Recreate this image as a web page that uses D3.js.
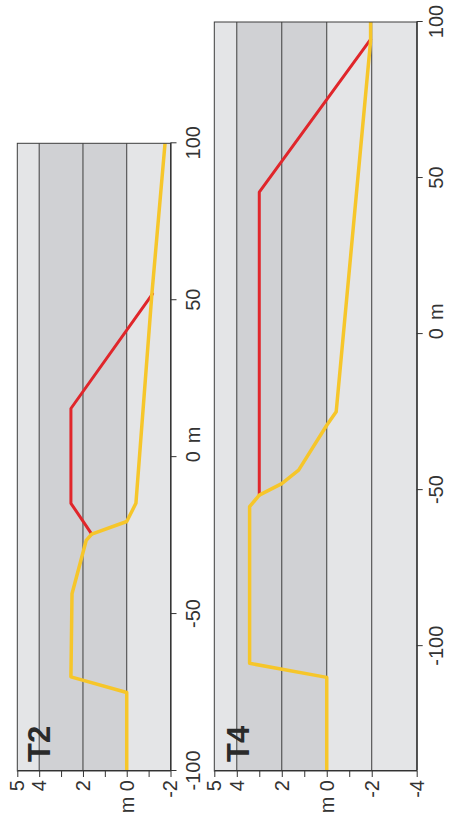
<!DOCTYPE html>
<html><head><meta charset="utf-8">
<script src="https://cdn.jsdelivr.net/npm/d3@7"></script>
<style>
body{margin:0;background:#fff}
svg{display:block}
text{font-family:"Liberation Sans",Arial,Helvetica,sans-serif}
</style>
</head><body>
<svg id="chart" width="449" height="820"></svg>
<script>
// ---- data ----
const panelNames = ["T2", "T4"];
const distTicks = [-100, -50, 0, 50, 100];
const t2DistDomain = [-100, 100];
const t2ElevDomain = [-2, 5];
const t4DistDomain = [-140, 100];
const t4ElevDomain = [-4, 5];
const t2ElevTicks = [5, 4, 3, 2, 1, 0, -1, -2];
const t4ElevTicks = [5, 4, 3, 2, 1, 0, -1, -2, -4];
const elevTickLabels = {"5": "5", "4": "4", "2": "2", "0": "m 0", "-2": "-2", "-4": "-4"};
const gridLevels = [4, 2, 0, -2];
const bandEdges = [4, 0];

const t2YellowDist = [-100, -75, -70, -43.5, -26.5, -24.5, -20.5, -14.7, 52, 100];
const t2YellowElev = [0, 0, 2.55, 2.5, 1.85, 1.6, 0, -0.42, -1.15, -1.75];
const t2RedDist = [-24.5, -14.7, 15.5, 52];
const t2RedElev = [1.6, 2.55, 2.55, -1.18];

const t4YellowDist = [-140, -110, -105.5, -55.3, -51.6, -47.9, -43.6, -29.2, -24.9, 94, 100];
const t4YellowElev = [0, 0, 3.43, 3.43, 3.0, 2.0, 1.25, 0, -0.42, -1.95, -1.95];
const t4RedDist = [-51.6, 45.5, 94.4];
const t4RedElev = [3.0, 3.0, -1.95];

// ---- styles / layout ----
const LIGHT = "#e4e5e7", DARK = "#d0d1d4", INK = "#333";
const YELLOW = "#f6c62a", RED = "#e0262b";

const svg = d3.select("#chart");

function drawPanel(cfg) {
  const W = cfg.y1 - cfg.y0, H = cfg.x1 - cfg.x0;
  const g = svg.append("g")
    .attr("transform", `translate(${cfg.x0},${cfg.y1}) rotate(-90)`);
  const x = d3.scaleLinear().domain(cfg.distDomain).range([0, W]);
  const y = d3.scaleLinear().domain(cfg.elevDomain).range([H, 0]);

  const bands = [
    [cfg.elevDomain[1], bandEdges[0], LIGHT],
    [bandEdges[0], bandEdges[1], DARK],
    [bandEdges[1], cfg.elevDomain[0], LIGHT]
  ];
  g.selectAll("rect.band").data(bands).join("rect")
    .attr("class", "band")
    .attr("x", 0).attr("width", W)
    .attr("y", d => y(d[0]))
    .attr("height", d => y(d[1]) - y(d[0]))
    .attr("fill", d => d[2]);

  g.selectAll("line.grid").data(gridLevels.filter(v => v > cfg.elevDomain[0])).join("line")
    .attr("class", "grid")
    .attr("x1", 0).attr("x2", W)
    .attr("y1", d => y(d)).attr("y2", d => y(d))
    .attr("stroke", "#3d3d3d").attr("stroke-width", 1);

  const line = d3.line().x(d => x(d[0])).y(d => y(d[1]));
  g.append("path")
    .datum(cfg.redDist.map((d, i) => [d, cfg.redElev[i]]))
    .attr("d", line).attr("fill", "none")
    .attr("stroke", RED).attr("stroke-width", 3)
    .attr("stroke-linejoin", "round").attr("stroke-linecap", "round");
  g.append("path")
    .datum(cfg.yellowDist.map((d, i) => [d, cfg.yellowElev[i]]))
    .attr("d", line).attr("fill", "none")
    .attr("stroke", YELLOW).attr("stroke-width", 3.5)
    .attr("stroke-linejoin", "round");

  g.append("rect")
    .attr("x", 0).attr("y", 0).attr("width", W).attr("height", H)
    .attr("fill", "none").attr("stroke", "#3d3d3d").attr("stroke-width", 1);

  const xAxis = d3.axisBottom(x)
    .tickValues(distTicks)
    .tickSize(6).tickSizeOuter(0).tickPadding(cfg.xPad)
    .tickFormat(d => String(d));
  const xg = g.append("g").attr("transform", `translate(0,${H})`).call(xAxis);
  xg.attr("color", INK).attr("font-size", 20).attr("font-family", null);
  xg.select(".domain").attr("stroke-width", 1.2);
  // unit "m" after the 0 label
  xg.selectAll(".tick").filter(d => d === 0).append("text")
    .attr("x", 13.5).attr("y", 6 + cfg.xPad).attr("dy", "0.71em")
    .attr("fill", INK).attr("text-anchor", "start").text("m");

  const yAxis = d3.axisLeft(y)
    .tickValues(cfg.elevTicks)
    .tickSize(6).tickSizeOuter(0).tickPadding(3)
    .tickFormat(d => elevTickLabels[String(d)] || "");
  const yg = g.append("g").call(yAxis);
  yg.attr("color", INK).attr("font-size", 20).attr("font-family", null);
  yg.select(".domain").attr("stroke-width", 1.2);

  g.append("text")
    .attr("x", 9).attr("y", cfg.labelBase)
    .attr("font-size", 31).attr("font-weight", "bold")
    .attr("fill", "#2a2a2a")
    .text(cfg.name);
}

drawPanel({
  name: panelNames[0],
  x0: 17.3, x1: 170.5, y0: 143.3, y1: 771,
  distDomain: t2DistDomain, elevDomain: t2ElevDomain, elevTicks: t2ElevTicks,
  yellowDist: t2YellowDist, yellowElev: t2YellowElev,
  redDist: t2RedDist, redElev: t2RedElev,
  xPad: 9, labelBase: 33
});
drawPanel({
  name: panelNames[1],
  x0: 214.3, x1: 416.7, y0: 22, y1: 771,
  distDomain: t4DistDomain, elevDomain: t4ElevDomain, elevTicks: t4ElevTicks,
  yellowDist: t4YellowDist, yellowElev: t4YellowElev,
  redDist: t4RedDist, redElev: t4RedElev,
  xPad: 6.5, labelBase: 34.5
});
</script>
</body></html>
